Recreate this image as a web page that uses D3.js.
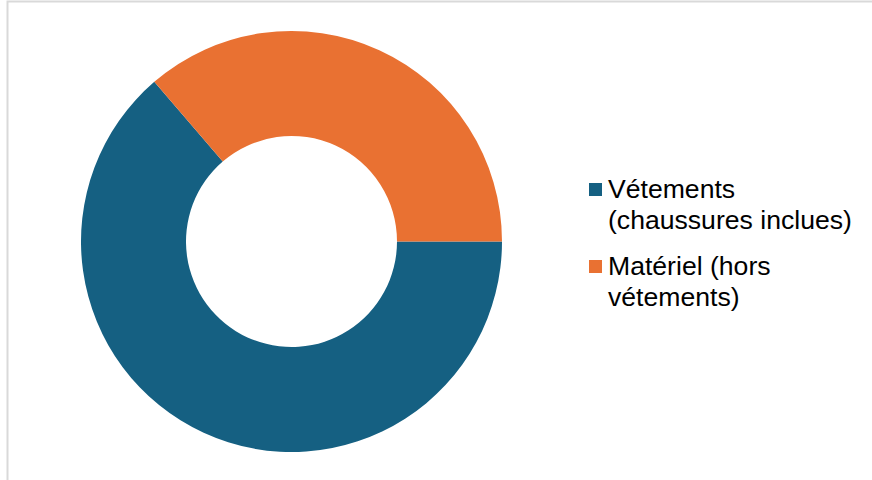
<!DOCTYPE html>
<html>
<head>
<meta charset="utf-8">
<script src="https://cdn.jsdelivr.net/npm/d3@7"></script>
<style>
  body { margin: 0; background: #fff; }
  svg { display: block; }
  text { font-family: Arial, "Liberation Sans", sans-serif; }
</style>
</head>
<body>
<div id="donut"></div>
<script>
// données
var categories = ["Vétements (chaussures inclues)", "Matériel (hors vétements)"];
var values = [63.7, 36.3];
var legendLines = [["Vétements", "(chaussures inclues)"], ["Matériel (hors", "vétements)"]];
var colors = ["#156082", "#E97132"];

var width = 872, height = 480;

var svg = d3.select("#donut")
  .append("svg")
    .attr("width", width)
    .attr("height", height);

// cadre du graphique (coupé à droite et en bas)
svg.append("path")
  .attr("d", "M7.5," + (height + 5) + " V1.5 H" + (width + 5))
  .attr("fill", "none")
  .attr("stroke", "#d9d9d9")
  .attr("stroke-width", 2);

var cx = 291.5, cy = 241.5, rOuter = 210.5, rInner = 105.5;

var pie = d3.pie()
  .sort(null)
  .startAngle(Math.PI / 2)
  .endAngle(Math.PI / 2 + 2 * Math.PI);

var arc = d3.arc()
  .innerRadius(rInner)
  .outerRadius(rOuter);

var g = svg.append("g")
  .attr("transform", "translate(" + cx + "," + cy + ")");

g.selectAll("path")
  .data(pie(values))
  .enter()
  .append("path")
    .attr("d", arc)
    .attr("fill", function (d, i) { return colors[i]; });

// légende
var legend = svg.append("g")
  .attr("transform", "translate(589,183)");

var item = legend.selectAll("g")
  .data(categories)
  .enter()
  .append("g")
    .attr("transform", function (d, i) { return "translate(0," + (i * 77) + ")"; });

item.append("rect")
  .attr("width", 13)
  .attr("height", 13)
  .attr("fill", function (d, i) { return colors[i]; });

item.append("text")
  .attr("x", 19)
  .attr("y", 14.5)
  .attr("font-size", "26.6px")
  .attr("fill", "#000")
  .selectAll("tspan")
  .data(function (d, i) { return legendLines[i]; })
  .enter()
  .append("tspan")
    .attr("x", 19)
    .attr("dy", function (d, j) { return j === 0 ? 0 : 31; })
    .text(function (d) { return d; });
</script>
</body>
</html>
